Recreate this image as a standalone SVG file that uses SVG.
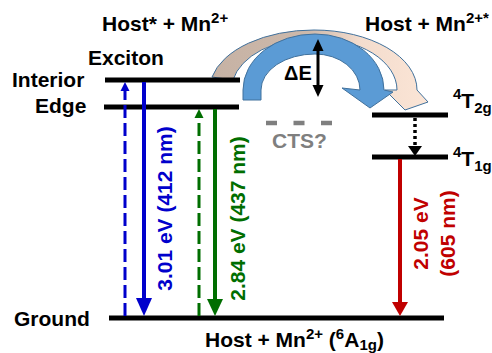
<svg xmlns="http://www.w3.org/2000/svg" width="492" height="353" viewBox="0 0 492 353">
<style>
text{font-family:"Liberation Sans",Arial,sans-serif;font-weight:bold;font-size:21px;fill:#000}
.sup{font-size:15px}
.lvl{stroke:#000;stroke-width:5;fill:none}
.blue{stroke:#0000cc;fill:none}
.green{stroke:#006e00;fill:none}
.red{stroke:#c00000;fill:none}
.hb{fill:#0000cc}
.hg{fill:#006e00}
.hr{fill:#c00000}
.hk{fill:#000}
.curve{stroke:#41719c;stroke-width:1;stroke-linejoin:round}
</style>
<defs>
<linearGradient id="tanGrad" gradientUnits="userSpaceOnUse" x1="212" y1="0" x2="428" y2="0">
<stop offset="0" stop-color="#c6b2a4"/>
<stop offset="0.45" stop-color="#cdb9ab"/>
<stop offset="0.68" stop-color="#f3dccd"/>
<stop offset="1" stop-color="#fbe5d6"/>
</linearGradient>
</defs>
<g id="labels">
<text x="102" y="31">Host* + Mn<tspan class="sup" dy="-8">2+</tspan></text>
<text x="365" y="31">Host + Mn<tspan class="sup" dy="-8">2+*</tspan></text>
<text x="88" y="65">Exciton</text>
</g>
<g id="curved-arrows">
<path class="curve" fill="url(#tanGrad)" d="M212,77 A104,60 0 0 1 314,30 A103,60 0 0 1 417,90 L428,102 L405,110 L385,90 L397,90 A83,52 0 0 0 314,38 A83,52 0 0 0 233,80 Z"/>
<path class="curve" fill="#5b9bd5" d="M243,100 L243,90 A72,56 0 0 1 315,34 A69,56 0 0 1 384,90 L393,92 L370,108 L342,88 L360,90 A45,36 0 0 0 315,54 A54,36 0 0 0 261,90 L261,100 Z"/>
</g>
<g id="level-interior">
<line class="lvl" x1="105" y1="80" x2="240" y2="80"/>
<text x="12" y="87">Interior</text>
</g>
<g id="level-edge">
<line class="lvl" x1="104" y1="107" x2="239" y2="107"/>
<text x="35" y="113">Edge</text>
</g>
<g id="level-ground">
<line class="lvl" x1="109" y1="318" x2="444" y2="318"/>
<text x="14" y="326">Ground</text>
<text x="205" y="347">Host + Mn<tspan class="sup" dy="-8">2+</tspan><tspan dy="8"> (</tspan><tspan class="sup" dy="-8">6</tspan><tspan dy="8">A</tspan><tspan class="sup" dy="3">1g</tspan><tspan dy="-3">)</tspan></text>
</g>
<g id="level-4T2g">
<line class="lvl" x1="372" y1="115" x2="448" y2="115"/>
<text x="453" y="108"><tspan class="sup" dy="-9">4</tspan><tspan dy="9">T</tspan><tspan class="sup" dy="5">2g</tspan></text>
</g>
<g id="level-4T1g">
<line class="lvl" x1="372" y1="157" x2="448" y2="157"/>
<text x="453" y="166"><tspan class="sup" dy="-9">4</tspan><tspan dy="9">T</tspan><tspan class="sup" dy="5">1g</tspan></text>
</g>
<g id="cts">
<line x1="266" y1="123" x2="332" y2="123" stroke="#7f7f7f" stroke-width="4.3" stroke-dasharray="11 16.5"/>
<text x="272" y="148" style="fill:#7f7f7f">CTS?</text>
</g>
<g id="connectors">
<line class="blue" x1="125" y1="316" x2="125" y2="90" stroke-width="3" stroke-dasharray="13 5"/>
<polygon class="hb" points="125,82 120.5,91 129.5,91"/>
<line class="blue" x1="144" y1="82" x2="144" y2="299" stroke-width="4"/>
<polygon class="hb" points="136,298 152,298 144,316"/>
<line class="green" x1="199" y1="316" x2="199" y2="117" stroke-width="3" stroke-dasharray="13 5"/>
<polygon class="hg" points="199,109 194.5,118 203.5,118"/>
<line class="green" x1="215" y1="109" x2="215" y2="300" stroke-width="4"/>
<polygon class="hg" points="207,299 223,299 215,316"/>
<line class="red" x1="400" y1="159" x2="400" y2="303" stroke-width="4"/>
<polygon class="hr" points="392,302 408,302 400,316"/>
<line x1="415" y1="118" x2="415" y2="147" stroke="#000" stroke-width="3.5" stroke-dasharray="3 3"/>
<polygon class="hk" points="408,146 422,146 415,156"/>
<line x1="318" y1="50" x2="318" y2="86" stroke="#000" stroke-width="3"/>
<polygon class="hk" points="318,39 312.5,51 323.5,51"/>
<polygon class="hk" points="318,97 312.5,85 323.5,85"/>
</g>
<g id="transition-labels">
<text x="284" y="80" style="font-size:20px">ΔE</text>
<text transform="translate(172,208.5) rotate(-90)" text-anchor="middle" style="fill:#0000cc">3.01 eV (412 nm)</text>
<text transform="translate(245,218.5) rotate(-90)" text-anchor="middle" style="fill:#006e00">2.84 eV (437 nm)</text>
<text transform="translate(428,233.5) rotate(-90)" text-anchor="middle" style="fill:#c00000">2.05 eV</text>
<text transform="translate(455,233.5) rotate(-90)" text-anchor="middle" style="fill:#c00000">(605 nm)</text>
</g>
</svg>
